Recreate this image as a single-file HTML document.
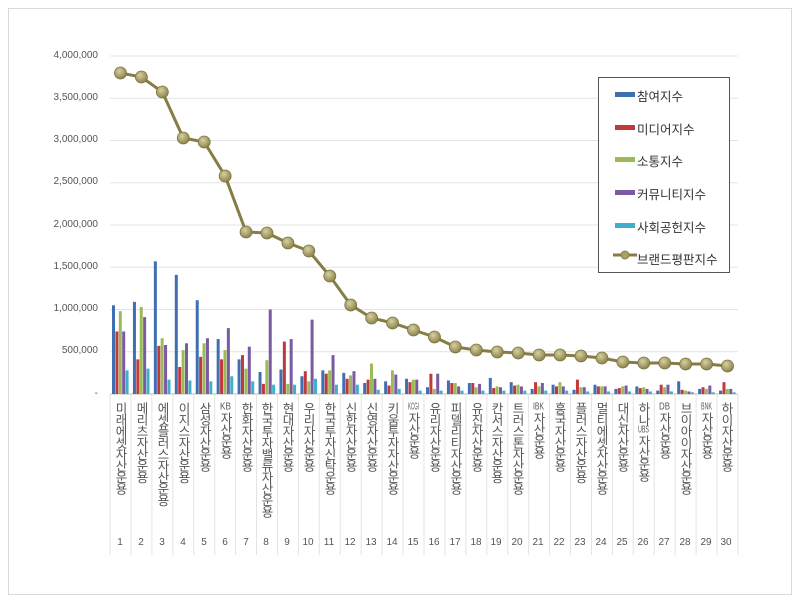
<!DOCTYPE html>
<html><head><meta charset="utf-8">
<style>
body{margin:0;background:#fff;width:800px;height:602px;position:relative;overflow:hidden;font-family:"Liberation Sans","Noto Sans CJK KR",sans-serif;}
.frame{position:absolute;left:8px;top:8px;width:782px;height:585px;border:1px solid #d9d9d9;}
.yl{position:absolute;right:702px;font-size:10px;color:#555;text-align:right;}
.cl{position:absolute;top:402px;width:20px;writing-mode:vertical-rl;text-orientation:upright;font-size:12.5px;color:#555;line-height:20px;letter-spacing:-1px;font-family:"Liberation Sans","Noto Sans CJK KR",sans-serif;}
.cl b{font-weight:normal;text-combine-upright:all;font-size:10px;letter-spacing:-1px;}
.cn{position:absolute;top:537px;width:20px;text-align:center;font-size:10px;color:#555;}
.leg{position:absolute;left:598px;top:77px;width:130px;height:194px;border:1px solid #555;background:#fff;}
.li{position:absolute;left:38px;font-size:12.5px;color:#333;}
.sw{position:absolute;left:16px;width:20px;height:5px;}
</style></head><body>
<div class="frame"></div>
<svg id="s" width="800" height="602" style="position:absolute;left:0;top:0"></svg>
<div class="yl" style="top:50px">4,000,000</div>
<div class="yl" style="top:92px">3,500,000</div>
<div class="yl" style="top:134px">3,000,000</div>
<div class="yl" style="top:176px">2,500,000</div>
<div class="yl" style="top:219px">2,000,000</div>
<div class="yl" style="top:261px">1,500,000</div>
<div class="yl" style="top:303px">1,000,000</div>
<div class="yl" style="top:345px">500,000</div>
<div class="yl" style="top:388px">-</div>
<div id="labels">
<div class="cl" style="left:110px">미래에셋자산운용</div>
<div class="cl" style="left:131px">메리츠자산운용</div>
<div class="cl" style="left:152px">에셋플러스자산운용</div>
<div class="cl" style="left:173px">이지스자산운용</div>
<div class="cl" style="left:194px">삼성자산운용</div>
<div class="cl" style="left:215px"><b>KB</b>자산운용</div>
<div class="cl" style="left:236px">한화자산운용</div>
<div class="cl" style="left:256px">한국투자밸류자산운용</div>
<div class="cl" style="left:277px">현대자산운용</div>
<div class="cl" style="left:298px">우리자산운용</div>
<div class="cl" style="left:319px">한국투자신탁운용</div>
<div class="cl" style="left:340px">신한자산운용</div>
<div class="cl" style="left:361px">신영자산운용</div>
<div class="cl" style="left:382px">키움투자자산운용</div>
<div class="cl" style="left:403px"><b>KCGI</b>자산운용</div>
<div class="cl" style="left:424px">유리자산운용</div>
<div class="cl" style="left:445px">피델리티자산운용</div>
<div class="cl" style="left:466px">유진자산운용</div>
<div class="cl" style="left:486px">칸서스자산운용</div>
<div class="cl" style="left:507px">트러스톤자산운용</div>
<div class="cl" style="left:528px"><b>IBK</b>자산운용</div>
<div class="cl" style="left:549px">흥국자산운용</div>
<div class="cl" style="left:570px">플러스자산운용</div>
<div class="cl" style="left:591px">멀티에셋자산운용</div>
<div class="cl" style="left:612px">대신자산운용</div>
<div class="cl" style="left:633px">하나<b>UBS</b>자산운용</div>
<div class="cl" style="left:654px"><b>DB</b>자산운용</div>
<div class="cl" style="left:675px">브이아이자산운용</div>
<div class="cl" style="left:696px"><b>BNK</b>자산운용</div>
<div class="cl" style="left:716px">하이자산운용</div>
</div>
<div class="cn" style="left:110px">1</div><div class="cn" style="left:131px">2</div><div class="cn" style="left:152px">3</div><div class="cn" style="left:173px">4</div><div class="cn" style="left:194px">5</div><div class="cn" style="left:215px">6</div><div class="cn" style="left:236px">7</div><div class="cn" style="left:256px">8</div><div class="cn" style="left:277px">9</div><div class="cn" style="left:298px">10</div><div class="cn" style="left:319px">11</div><div class="cn" style="left:340px">12</div><div class="cn" style="left:361px">13</div><div class="cn" style="left:382px">14</div><div class="cn" style="left:403px">15</div><div class="cn" style="left:424px">16</div><div class="cn" style="left:445px">17</div><div class="cn" style="left:466px">18</div><div class="cn" style="left:486px">19</div><div class="cn" style="left:507px">20</div><div class="cn" style="left:528px">21</div><div class="cn" style="left:549px">22</div><div class="cn" style="left:570px">23</div><div class="cn" style="left:591px">24</div><div class="cn" style="left:612px">25</div><div class="cn" style="left:633px">26</div><div class="cn" style="left:654px">27</div><div class="cn" style="left:675px">28</div><div class="cn" style="left:696px">29</div><div class="cn" style="left:716px">30</div>
<div class="leg">
<div class="sw" style="top:14px;background:#3f6fb0"></div><div class="li" style="top:8px">참여지수</div>
<div class="sw" style="top:47px;background:#c0393b"></div><div class="li" style="top:41px">미디어지수</div>
<div class="sw" style="top:79px;background:#9bbb59"></div><div class="li" style="top:73px">소통지수</div>
<div class="sw" style="top:112px;background:#7a5aa0"></div><div class="li" style="top:106px">커뮤니티지수</div>
<div class="sw" style="top:145px;background:#3fb0cc"></div><div class="li" style="top:139px">사회공헌지수</div>
<svg style="position:absolute;left:14px;top:172px" width="26" height="10"><line x1="0" y1="5" x2="24" y2="5" stroke="#857d45" stroke-width="3"/><circle cx="12" cy="5" r="4" fill="#a8a064" stroke="#857d45"/></svg><div class="li" style="top:171px">브랜드평판지수</div>
</div>
<script>
var s=document.getElementById('s'),h='';
var y0=394,k=338/4000;
for(var i=0;i<=8;i++){var y=y0-i*500*k;h+='<line x1="110" x2="738" y1="'+y+'" y2="'+y+'" stroke="'+(i?'#e3e3e3':'#bbb')+'"/>';}
var cw=628/30;
for(var i=0;i<=30;i++){var x=110+i*cw;h+='<line x1="'+x+'" x2="'+x+'" y1="394" y2="555" stroke="#e3e3e3"/>';}
var B=[[1050,740,980,740,280],[1090,410,1030,910,300],[1570,570,660,580,170],[1410,320,520,600,160],[1110,440,600,660,150],[650,410,520,780,210],[410,460,300,560,150],[260,120,400,1000,110],[290,620,120,650,110],[210,270,150,880,180],[280,240,280,460,110],[250,180,220,270,110],[130,170,360,180,50],[150,100,280,230,60],[180,140,170,170,40],[80,240,60,240,40],[160,130,130,90,40],[130,130,80,120,40],[190,70,90,80,40],[140,100,110,90,40],[60,140,90,130,40],[110,90,140,90,40],[50,170,80,80,30],[110,90,90,90,30],[60,70,90,100,30],[90,70,80,60,30],[40,110,80,110,30],[150,50,40,30,20],[60,80,60,100,20],[40,140,60,60,20]];
var C=['#3f6fb0','#c0393b','#9bbb59','#7a5aa0','#3fb0cc'];
for(var i=0;i<30;i++){var x0=110+i*cw+2;for(var j=0;j<5;j++){var v=B[i][j]*k;h+='<rect x="'+(x0+j*3.4)+'" y="'+(y0-v)+'" width="3" height="'+v+'" fill="'+C[j]+'"/>';}}
var L=[73,77,92,138,142,176,232,233,243,251,276,305,318,323,330,337,347,350,352,353,355,355,356,358,362,363,363,364,364,366];
var p='';for(var i=0;i<30;i++){p+=(110+(i+0.5)*cw)+','+L[i]+' ';}
h+='<polyline points="'+p+'" fill="none" stroke="#857d45" stroke-width="3"/>';
h+='<defs><radialGradient id="g" cx="40%" cy="35%" r="65%"><stop offset="0" stop-color="#d6d0a0"/><stop offset="1" stop-color="#8c844c"/></radialGradient></defs>';
for(var i=0;i<30;i++){h+='<circle cx="'+(110+(i+0.5)*cw)+'" cy="'+L[i]+'" r="6" fill="url(#g)" stroke="#7a733f" stroke-width="0.8"/>';}
s.innerHTML=h;
</script>
</body></html>
